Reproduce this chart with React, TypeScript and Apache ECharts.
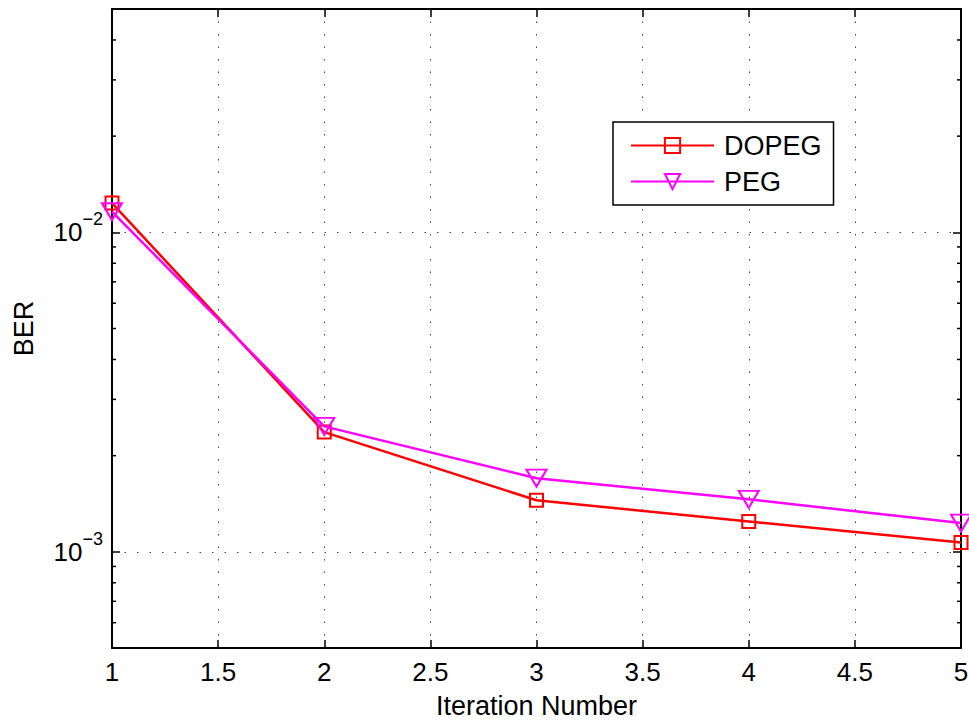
import React, { useEffect, useRef } from 'react';
import * as echarts from 'echarts';

// ---- data ----
const iterations = [1, 2, 3, 4, 5];
const dopegBER = [0.01235, 0.00237, 0.00145, 0.001244, 0.00107];
const pegBER = [0.0116, 0.00247, 0.0017, 0.00146, 0.00123];
const seriesNames = ['DOPEG', 'PEG'];
const xAxisTitle = 'Iteration Number';
const yAxisTitle = 'BER';
const X_MIN = 1;
const X_MAX = 5;
const X_INTERVAL = 0.5;
const Y_MIN = 5e-4;
const Y_MAX = 5e-2;
const minorTickValues = [6e-4, 7e-4, 8e-4, 9e-4, 2e-3, 3e-3, 4e-3, 5e-3, 6e-3, 7e-3, 8e-3, 9e-3, 2e-2, 3e-2, 4e-2];

const FONT = "'Liberation Sans', Arial, Helvetica, sans-serif";
const RED = '#ff0000';
const MAGENTA = '#ff00ff';

const yLabelFormatter = (v: number) => {
  const l = Math.log10(v);
  const e = Math.round(l);
  if (Math.abs(l - e) > 1e-6) return '';
  return `{b|10}{s|${e < 0 ? '\u2212' : ''}${Math.abs(e)}}`;
};

export default function App() {
  const ref = useRef<HTMLDivElement>(null);
  useEffect(() => {
    if (!ref.current) return;
    const chart = echarts.init(ref.current, undefined, { renderer: 'svg' });
    const gridLine = { color: '#444', width: 1, type: [1.5, 11] as any };
    const option: any = {
      animation: false,
      backgroundColor: '#ffffff',
      textStyle: { fontFamily: FONT, color: '#000' },
      grid: {
        left: 112,
        right: 8,
        top: 9,
        bottom: 72,
        containLabel: false,
        outerBoundsMode: 'none',
      },
      legend: {
        data: seriesNames,
        orient: 'vertical',
        left: 613,
        top: 122,
        itemWidth: 83,
        itemHeight: 19,
        itemGap: 9,
        padding: [10, 12, 10, 17],
        borderColor: '#000',
        borderWidth: 1.5,
        borderRadius: 0,
        backgroundColor: '#fff',
        selectedMode: false,
        textStyle: { fontSize: 27, color: '#000', fontFamily: FONT, padding: [0, 0, 0, 5] },
      },
      xAxis: [
        {
          type: 'value',
          min: X_MIN,
          max: X_MAX,
          interval: X_INTERVAL,
          name: xAxisTitle,
          nameLocation: 'middle',
          nameGap: 44,
          nameTextStyle: { fontSize: 27, color: '#000', fontFamily: FONT },
          axisLine: { show: true, onZero: false, lineStyle: { color: '#000', width: 2 } },
          axisTick: { show: true, inside: true, length: 8, lineStyle: { color: '#000', width: 1.5 } },
          axisLabel: { fontSize: 26, color: '#000', margin: 11, fontFamily: FONT },
          splitLine: { show: true, lineStyle: gridLine },
        },
        {
          type: 'value',
          position: 'top',
          min: X_MIN,
          max: X_MAX,
          interval: X_INTERVAL,
          axisLine: { show: true, onZero: false, lineStyle: { color: '#000', width: 2 } },
          axisTick: { show: true, inside: true, length: 8, lineStyle: { color: '#000', width: 1.5 } },
          axisLabel: { show: false },
          splitLine: { show: false },
        },
      ],
      yAxis: [
        {
          type: 'log',
          logBase: 10,
          min: Y_MIN,
          max: Y_MAX,
          name: yAxisTitle,
          nameLocation: 'middle',
          nameGap: 75,
          nameTextStyle: { fontSize: 27, color: '#000', fontFamily: FONT },
          axisLine: { show: true, onZero: false, lineStyle: { color: '#000', width: 2 } },
          axisTick: { show: true, inside: true, length: 8, lineStyle: { color: '#000', width: 1.5 } },
          axisLabel: {
            margin: 9,
            color: '#000',
            fontFamily: FONT,
            formatter: yLabelFormatter,
            rich: {
              b: { fontSize: 26, lineHeight: 26, color: '#000', fontFamily: FONT, verticalAlign: 'middle' },
              s: { fontSize: 18, lineHeight: 18, color: '#000', fontFamily: FONT, padding: [0, 0, 26, 0], verticalAlign: 'middle' },
            },
          },
          splitLine: { show: true, lineStyle: gridLine },
        },
        {
          type: 'log',
          logBase: 10,
          position: 'right',
          min: Y_MIN,
          max: Y_MAX,
          axisLine: { show: true, onZero: false, lineStyle: { color: '#000', width: 2 } },
          axisTick: { show: true, inside: true, length: 8, lineStyle: { color: '#000', width: 1.5 } },
          axisLabel: { show: false },
          splitLine: { show: false },
        },
      ],
      series: [
        {
          type: 'custom',
          name: 'minorTicks',
          silent: true,
          xAxisIndex: 0,
          yAxisIndex: 0,
          data: minorTickValues.map((v) => [X_MIN, v]),
          renderItem: (params: any, api: any) => {
            const v = api.value(1);
            const pl = api.coord([X_MIN, v]);
            const pr = api.coord([X_MAX, v]);
            return {
              type: 'group',
              children: [
                { type: 'line', shape: { x1: pl[0], y1: pl[1], x2: pl[0] + 4, y2: pl[1] }, style: { stroke: '#000', lineWidth: 1.5 } },
                { type: 'line', shape: { x1: pr[0] - 4, y1: pr[1], x2: pr[0], y2: pr[1] }, style: { stroke: '#000', lineWidth: 1.5 } },
              ],
            };
          },
          z: 1,
        },
        {
          type: 'line',
          name: seriesNames[0],
          data: iterations.map((x, i) => [x, dopegBER[i]]),
          symbol: 'rect',
          symbolSize: 13,
          clip: false,
          lineStyle: { color: RED, width: 2.5 },
          itemStyle: { color: 'rgba(0,0,0,0)', borderColor: RED, borderWidth: 2 },
          z: 3,
        },
        {
          type: 'line',
          name: seriesNames[1],
          data: iterations.map((x, i) => [x, pegBER[i]]),
          symbol: 'triangle',
          symbolRotate: 180,
          symbolSize: [20, 17],
          clip: false,
          lineStyle: { color: MAGENTA, width: 2.5 },
          itemStyle: { color: 'rgba(0,0,0,0)', borderColor: MAGENTA, borderWidth: 2 },
          z: 4,
        },
      ],
    };
    chart.setOption(option);
    return () => chart.dispose();
  }, []);
  return (
    <div
      ref={ref}
      style={{ position: 'fixed', left: 0, top: 0, width: 969, height: 720, background: '#fff' }}
    />
  );
}
